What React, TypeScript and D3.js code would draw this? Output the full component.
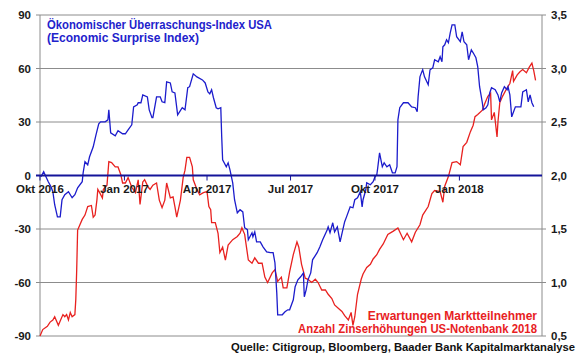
import React from 'react';
import * as d3 from 'd3';

// days since 1 Oct 2016
const surpriseDays = [1, 4, 7, 9, 12, 14, 16, 19, 22, 24, 27, 31, 35, 38, 41, 46, 47, 49, 52, 54, 58, 61, 64, 66, 71, 74, 75, 77, 82, 85, 90, 93, 96, 100, 102, 106, 107, 110, 112, 117, 119, 122, 123, 127, 131, 133, 136, 138, 142, 144, 147, 150, 155, 158, 161, 163, 167, 171, 177, 180, 183, 185, 187, 189, 192, 194, 197, 198, 199, 203, 205, 207, 210, 212, 215, 218, 221, 223, 226, 227, 231, 232, 234, 236, 240, 243, 247, 251, 254, 256, 258, 259, 264, 267, 270, 272, 276, 278, 281, 284, 287, 288, 290, 292, 295, 297, 302, 305, 308, 313, 314, 316, 319, 321, 324, 327, 330, 332, 334, 338, 341, 343, 346, 349, 351, 352, 355, 356, 360, 363, 365, 367, 368, 370, 373, 375, 378, 381, 384, 387, 389, 390, 392, 396, 401, 405, 409, 411, 412, 414, 416, 417, 419, 423, 425, 428, 430, 434, 436, 438, 439, 441, 443, 445, 447, 449, 452, 454, 458, 460, 462, 465, 467, 470, 472, 475, 477, 479, 482, 483, 486, 488, 490, 492, 496, 499, 501, 503, 506, 509, 510, 512, 514, 518, 521, 524, 526, 530, 532, 534, 536, 538];
const surpriseValues = [-0.7, 2.1, -1.3, -3.5, -6.3, -9.1, -16.4, -23.2, -23.2, -13.6, -10.8, -9.1, -12.5, -10.8, -6.9, -3.5, 1.5, 7.7, 6.0, 10.5, 16.1, 22.8, 29.0, 30.1, 30.1, 31.2, 36.8, 23.9, 22.3, 25.1, 23.4, 23.4, 25.6, 28.4, 38.5, 39.6, 40.8, 40.8, 45.2, 44.1, 36.8, 32.4, 32.4, 44.1, 44.1, 41.3, 40.8, 52.5, 51.9, 46.9, 46.3, 34.0, 38.0, 36.8, 49.2, 49.8, 57.0, 55.3, 53.6, 51.9, 46.9, 45.8, 48.1, 43.6, 38.0, 37.4, 38.0, 21.7, 8.8, 4.9, 7.1, 3.2, -4.1, -13.6, -20.9, -19.2, -20.4, -29.3, -30.4, -36.0, -32.1, -34.3, -31.6, -37.2, -37.2, -40.0, -42.8, -43.3, -43.3, -48.9, -65.8, -78.1, -78.1, -76.4, -75.3, -75.3, -69.7, -62.4, -58.5, -56.8, -54.6, -68.0, -64.1, -58.5, -54.6, -47.3, -43.3, -40.0, -36.0, -30.4, -28.8, -32.1, -26.5, -31.6, -28.8, -37.2, -30.4, -25.9, -23.2, -17.6, -18.1, -13.6, -12.5, -9.1, -17.6, -13.6, -8.0, -4.1, -5.2, -3.5, -0.7, 0.4, 4.3, 12.7, 4.9, 7.1, 4.9, 6.0, 1.5, 1.5, 4.9, 31.2, 38.0, 40.8, 40.8, 38.5, 38.0, 35.7, 44.1, 55.3, 58.1, 59.3, 55.3, 50.9, 59.3, 60.4, 64.9, 63.8, 66.6, 63.8, 72.2, 73.3, 76.1, 74.4, 80.0, 84.5, 84.5, 77.8, 75.0, 80.6, 75.0, 73.3, 64.9, 70.5, 68.8, 66.0, 60.9, 49.8, 40.8, 36.8, 38.0, 39.6, 46.3, 49.2, 48.1, 45.2, 41.3, 46.3, 49.8, 48.1, 49.8, 45.2, 32.9, 38.5, 38.5, 38.5, 46.9, 48.1, 41.3, 45.2, 40.8, 38.5];

const hikeDays = [0, 3, 8, 11, 14, 16, 20, 22, 25, 27, 29, 31, 33, 35, 38, 39, 40, 41, 46, 49, 52, 56, 58, 60, 62, 63, 65, 68, 69, 73, 75, 78, 82, 85, 88, 90, 93, 96, 100, 104, 107, 109, 112, 114, 118, 120, 123, 127, 130, 133, 136, 138, 142, 145, 147, 149, 153, 156, 158, 160, 163, 166, 167, 171, 174, 178, 182, 184, 186, 187, 191, 194, 196, 199, 202, 205, 207, 210, 215, 218, 220, 223, 227, 231, 234, 238, 242, 245, 248, 253, 256, 259, 263, 265, 269, 272, 276, 280, 282, 285, 289, 292, 296, 300, 303, 307, 311, 314, 318, 321, 325, 329, 332, 336, 339, 341, 343, 346, 350, 352, 356, 360, 363, 367, 370, 374, 379, 385, 390, 396, 400, 405, 409, 414, 417, 423, 427, 430, 436, 439, 441, 445, 449, 454, 458, 461, 465, 469, 472, 474, 477, 482, 485, 488, 491, 492, 495, 498, 499, 501, 504, 509, 512, 515, 516, 520, 523, 526, 530, 533, 536, 538, 540];
const hikeValues = [0.5, 0.56, 0.59, 0.63, 0.65, 0.68, 0.6, 0.64, 0.7, 0.68, 0.7, 0.65, 0.72, 0.68, 0.7, 0.84, 1.12, 1.49, 1.59, 1.63, 1.71, 1.72, 1.61, 1.63, 1.77, 1.87, 1.84, 1.79, 1.87, 1.91, 2.13, 2.12, 2.08, 2.08, 2.01, 1.93, 1.93, 1.98, 1.89, 1.84, 1.96, 1.73, 1.94, 1.96, 1.89, 1.87, 1.91, 1.93, 1.77, 1.7, 1.77, 1.93, 1.79, 1.8, 1.71, 1.61, 1.77, 1.98, 2.05, 2.17, 2.17, 2.08, 1.96, 1.87, 1.82, 1.84, 1.85, 1.71, 1.68, 1.56, 1.56, 1.46, 1.28, 1.33, 1.21, 1.35, 1.37, 1.4, 1.43, 1.46, 1.51, 1.45, 1.21, 1.18, 1.23, 1.18, 1.18, 1.05, 1.0, 1.09, 1.12, 1.01, 1.05, 0.95, 0.95, 1.1, 1.26, 1.38, 1.33, 1.17, 1.04, 1.03, 1.0, 1.03, 1.0, 0.93, 0.93, 0.89, 0.85, 0.79, 0.76, 0.73, 0.69, 0.65, 0.72, 0.6, 0.68, 0.89, 1.03, 1.08, 1.14, 1.17, 1.22, 1.26, 1.31, 1.36, 1.45, 1.48, 1.51, 1.4, 1.46, 1.38, 1.47, 1.54, 1.63, 1.71, 1.83, 1.86, 1.85, 1.75, 1.9, 1.99, 2.12, 2.13, 2.1, 2.27, 2.31, 2.41, 2.47, 2.55, 2.57, 2.61, 2.68, 2.74, 2.77, 2.52, 2.59, 2.36, 2.5, 2.68, 2.74, 2.82, 2.86, 2.98, 2.88, 2.94, 2.97, 2.99, 2.96, 3.01, 3.05, 2.98, 2.89];

const leftTicks = [90, 60, 30, 0, -30, -60, -90];
const rightTicks = [3.5, 3.0, 2.5, 2.0, 1.5, 1.0, 0.5];
const monthNames = ['Jan', 'Feb', 'Mrz', 'Apr', 'Mai', 'Jun', 'Jul', 'Aug', 'Sep', 'Okt', 'Nov', 'Dez'];

const startDate = new Date(2016, 9, 1);
const endDate = new Date(2018, 3, 1);

const W = 580;
const H = 358;
const L = 40;
const R = 542;
const T = 15;
const B = 336;

const font = '"Liberation Sans", Arial, sans-serif';

export default function App() {
    const x = d3.scaleTime().domain([startDate, endDate]).range([L, R]);
    const yL = d3.scaleLinear().domain([-90, 90]).range([B, T]);
    const yR = d3.scaleLinear().domain([0.5, 3.5]).range([B, T]);

    const surprise = surpriseDays.map((d, i) => ({ date: d3.timeDay.offset(startDate, d), v: surpriseValues[i] }));
    const hikes = hikeDays.map((d, i) => ({ date: d3.timeDay.offset(startDate, d), v: hikeValues[i] }));

    const blueLine = d3.line<{ date: Date; v: number }>().x(d => x(d.date)).y(d => yL(d.v));
    const redLine = d3.line<{ date: Date; v: number }>().x(d => x(d.date)).y(d => yR(d.v));

    const quarters = d3.timeMonth.every(3)!.range(startDate, d3.timeDay.offset(endDate, -1));

    return (
        <svg width={W} height={H} style={{ position: 'absolute', left: 0, top: 0, background: '#fff' }}>
            {/* grid */}
            {leftTicks.filter(t => t !== 0).map(t => (
                <line key={t} x1={L - 4} x2={R + 4} y1={yL(t)} y2={yL(t)} stroke="#8c8c8c" strokeWidth={1} />
            ))}
            <line x1={L} x2={L} y1={T} y2={B} stroke="#8c8c8c" />
            <line x1={R} x2={R} y1={T} y2={B} stroke="#8c8c8c" />

            {/* series */}
            <path d={redLine(hikes)!} fill="none" stroke="#e8211f" strokeWidth={1.3} />
            <path d={blueLine(surprise)!} fill="none" stroke="#1c1ccc" strokeWidth={1.3} />

            {/* zero line */}
            <line x1={L - 4} x2={R} y1={yL(0)} y2={yL(0)} stroke="#14149a" strokeWidth={2.2} />
            {quarters.map(q => (
                <line key={+q} x1={x(q)} x2={x(q)} y1={yL(0)} y2={yL(0) + 5} stroke="#14149a" strokeWidth={1} />
            ))}

            <g fontFamily={font} fontWeight="bold" fontSize={11.5} fill="#1a1a1a">
                {quarters.map(q => (
                    <text key={+q} x={x(q)} y={yL(0) + 17} textAnchor="middle">
                        {monthNames[q.getMonth()] + ' ' + q.getFullYear()}
                    </text>
                ))}
                {leftTicks.map(t => (
                    <text key={t} x={31} y={yL(t) + 4} textAnchor="end">{t}</text>
                ))}
                {rightTicks.map(t => (
                    <text key={t} x={551} y={yR(t) + 4} textAnchor="start">{t.toFixed(1).replace('.', ',')}</text>
                ))}
            </g>

            <g fontFamily={font} fontWeight="bold" fontSize={12} fill="#2222cc">
                <text x={47} y={29} textLength={225} lengthAdjust="spacingAndGlyphs">Ökonomischer Überraschungs-Index USA</text>
                <text x={47} y={42}>(Economic Surprise Index)</text>
            </g>
            <g fontFamily={font} fontWeight="bold" fontSize={12} fill="#e8211f" textAnchor="end">
                <text x={537} y={320}>Erwartungen Marktteilnehmer</text>
                <text x={537} y={333} textLength={239} lengthAdjust="spacingAndGlyphs">Anzahl Zinserhöhungen US-Notenbank 2018</text>
            </g>
            <text x={231} y={351} fontFamily={font} fontWeight="bold" fontSize={11} fill="#111"
                textLength={344} lengthAdjust="spacingAndGlyphs">
                Quelle: Citigroup, Bloomberg, Baader Bank Kapitalmarktanalyse
            </text>
        </svg>
    );
}
